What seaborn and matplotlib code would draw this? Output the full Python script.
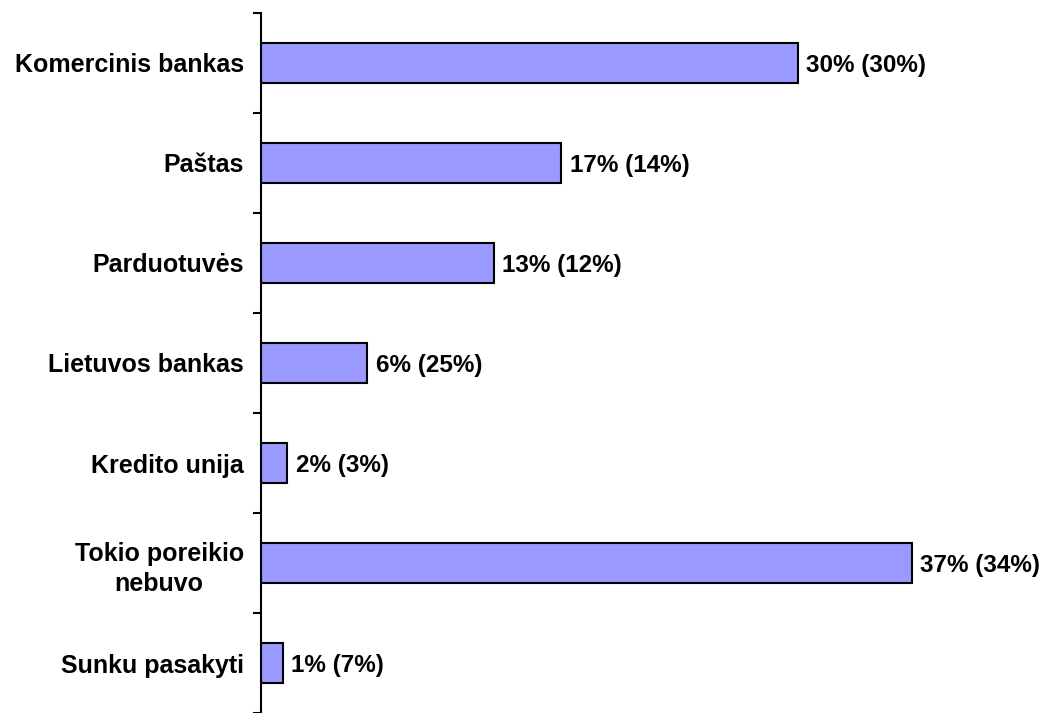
import matplotlib
matplotlib.use("Agg")
import matplotlib.pyplot as plt
import seaborn as sns
import pandas as pd
import numpy as np

categories = ["Komercinis bankas", "Paštas", "Parduotuvės", "Lietuvos bankas",
              "Kredito unija", "Tokio poreikio\nnebuvo", "Sunku pasakyti"]
values = [30.2, 16.9, 13.1, 6.0, 1.5, 36.6, 1.25]
labels = ["30% (30%)", "17% (14%)", "13% (12%)", "6% (25%)", "2% (3%)",
          "37% (34%)", "1% (7%)"]

sns.set_style("white", {"ytick.left": True, "text.color": "black",
                        "ytick.color": "black", "axes.labelcolor": "black"})
plt.rcParams['font.family'] = ['Liberation Sans', 'DejaVu Sans']

df = pd.DataFrame({"cat": categories, "val": values})

fig = plt.figure(figsize=(10.44, 7.13), dpi=100)
ax = fig.add_axes([260.5 / 1044, 0.0, 712 / 1044, 1 - 13 / 713])

sns.barplot(data=df, y="cat", x="val", orient="h", color="#9999FF",
            edgecolor="black", linewidth=1.5, width=0.4, saturation=1, ax=ax)

ax.set_xlim(0, 40)
ax.set_ylim(len(categories) - 0.5, -0.5)
for i, (v, lab) in enumerate(zip(values, labels)):
    ax.annotate(lab, xy=(v, i), xytext=(6, -2), textcoords="offset points",
                va="center", ha="left", fontsize=17.5, fontweight="bold",
                color="black")

for s in ["top", "right", "bottom"]:
    ax.spines[s].set_visible(False)
ax.spines["left"].set_linewidth(1.5)
ax.spines["left"].set_color("black")

ax.set_xticks([])
ax.set_yticks(range(len(categories)))
ax.set_yticklabels(categories, fontsize=18, fontweight="bold", ha="right",
                   color="black")
ax.tick_params(axis="y", which="major", length=0, pad=12, labelcolor="black")
for t in ax.get_yticklabels():
    t.set_multialignment("center")
    t.set_linespacing(1.35)
ax.set_yticks(np.arange(-0.5, len(categories) + 0.5, 1), minor=True)
ax.tick_params(axis="y", which="minor", left=True, length=6, width=1.5,
               color="black", direction="out")
ax.set_xlabel("")
ax.set_ylabel("")

fig.savefig("out.png", dpi=100)
